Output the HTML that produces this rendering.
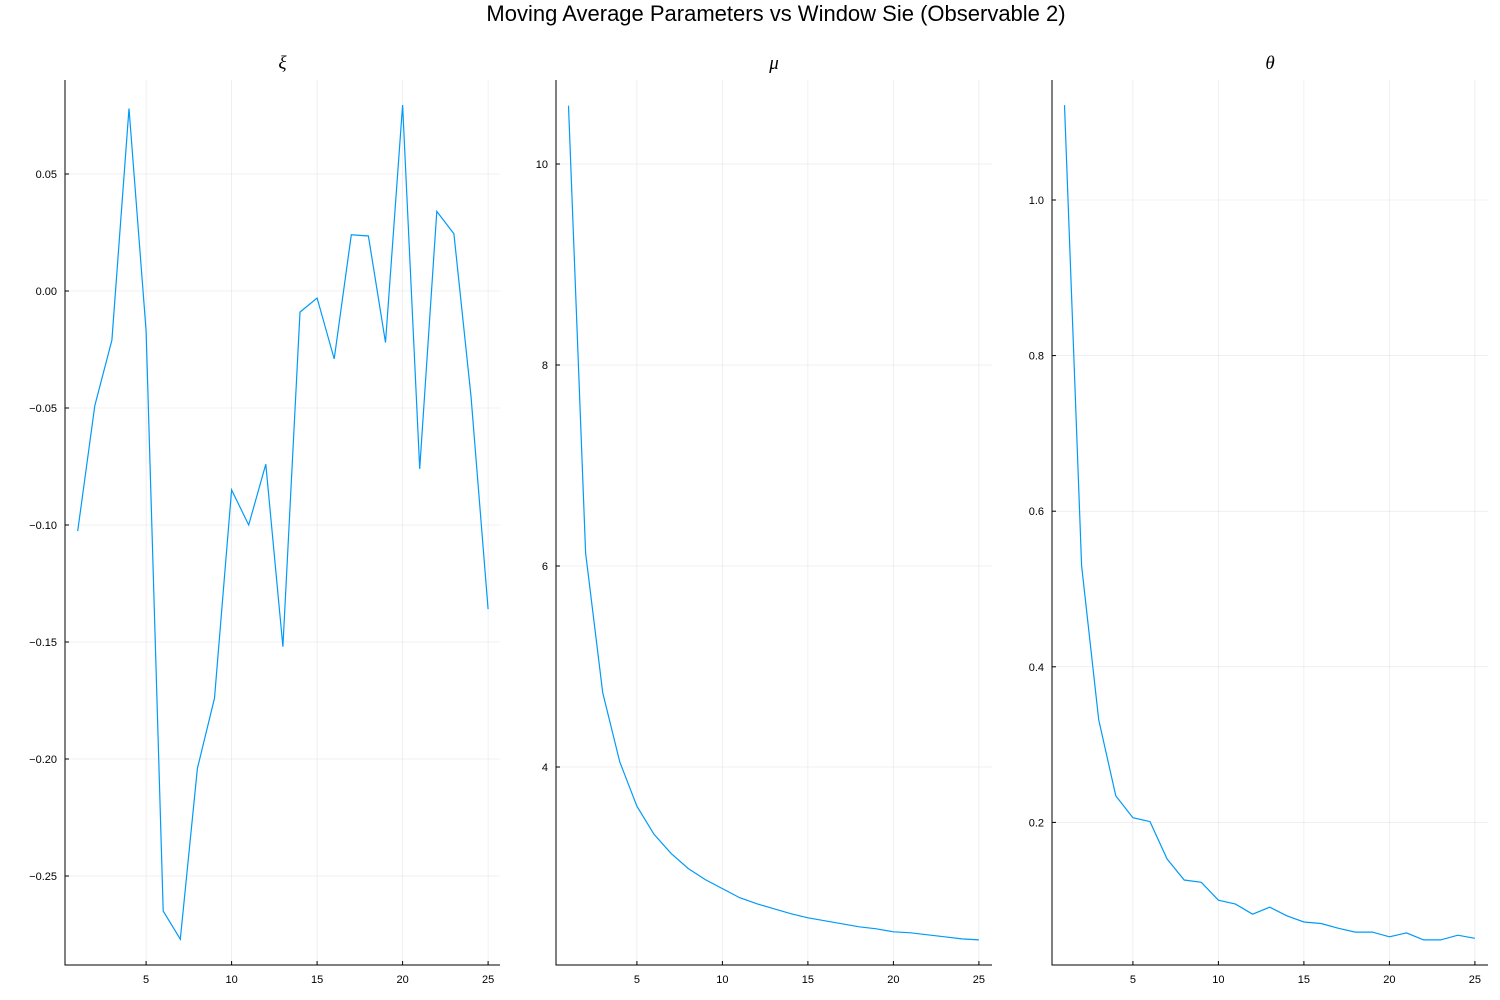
<!DOCTYPE html>
<html><head><meta charset="utf-8"><style>
body{margin:0;background:#fff;}
svg{display:block;font-family:"Liberation Sans","DejaVu Sans",sans-serif;}
</style></head><body>
<svg id="chart" width="1500" height="1000" viewBox="0 0 1500 1000">
<rect width="1500" height="1000" fill="#fff"/>
<text x="776" y="21" font-size="22" text-anchor="middle" fill="#000">Moving Average Parameters vs Window Sie (Observable 2)</text>
</svg>
<script>
const windowSizes=[1,2,3,4,5,6,7,8,9,10,11,12,13,14,15,16,17,18,19,20,21,22,23,24,25];
const xiValues=[-0.1026,-0.049,-0.021,0.078,-0.017,-0.265,-0.277,-0.204,-0.174,-0.085,-0.100,-0.074,-0.152,-0.009,-0.003,-0.029,0.024,0.0235,-0.022,0.0795,-0.076,0.034,0.0245,-0.045,-0.136];
const muValues=[10.58,6.13,4.74,4.05,3.61,3.33,3.14,2.99,2.88,2.79,2.70,2.64,2.59,2.54,2.50,2.47,2.44,2.41,2.39,2.36,2.35,2.33,2.31,2.29,2.28];
const thetaValues=[1.122,0.530,0.332,0.234,0.206,0.201,0.153,0.126,0.123,0.100,0.095,0.082,0.091,0.080,0.072,0.070,0.064,0.059,0.059,0.053,0.058,0.049,0.049,0.055,0.051];
const xTicks=[5,10,15,20,25];
const xiTicks=[0.05,0.00,-0.05,-0.10,-0.15,-0.20,-0.25];
const xiTickLabels=["0.05","0.00","\u22120.05","\u22120.10","\u22120.15","\u22120.20","\u22120.25"];
const muTicks=[10,8,6,4];
const muTickLabels=["10","8","6","4"];
const thetaTicks=[1.0,0.8,0.6,0.4,0.2];
const thetaTickLabels=["1.0","0.8","0.6","0.4","0.2"];

const NS="http://www.w3.org/2000/svg";
const svg=document.getElementById('chart');
function mk(tag,attrs,parent){const e=document.createElementNS(NS,tag);for(const k in attrs)e.setAttribute(k,attrs[k]);(parent||svg).appendChild(e);return e;}

const panels=[
 {name:'xi',title:'ξ',vals:xiValues,ticks:xiTicks,labels:xiTickLabels,left:65,right:500,
  x0:1,px0:77.7,pxPerX:17.1,y0:0,py0:291,pxPerY:-2340},
 {name:'mu',title:'μ',vals:muValues,ticks:muTicks,labels:muTickLabels,left:556,right:992,
  x0:1,px0:568.5,pxPerX:17.1,y0:10,py0:164,pxPerY:-100.5},
 {name:'theta',title:'θ',vals:thetaValues,ticks:thetaTicks,labels:thetaTickLabels,left:1052,right:1488,
  x0:1,px0:1064.5,pxPerX:17.1,y0:1.0,py0:200,pxPerY:-778}
];
const plotTop=80,plotBottom=965;
panels.forEach(p=>{
 const g=mk('g',{});
 
 
 const xs=v=>p.px0+(v-p.x0)*p.pxPerX;
 const ys=v=>p.py0+(v-p.y0)*p.pxPerY;
 xTicks.forEach(t=>{
  const l=mk('line',{x1:xs(t),x2:xs(t),y1:plotTop,y2:plotBottom,stroke:'#000','stroke-opacity':0.1,'stroke-width':0.6},g);
  
  
  mk('line',{x1:xs(t),x2:xs(t),y1:plotBottom,y2:plotBottom-4,stroke:'#000','stroke-width':1},g);
  const tx=mk('text',{x:xs(t),y:plotBottom+18,'font-size':11,'text-anchor':'middle',fill:'#000'},g);
  tx.textContent=t;
  
  
 });
 p.ticks.forEach((t,i)=>{
  const l=mk('line',{x1:p.left,x2:p.right,y1:ys(t),y2:ys(t),stroke:'#000','stroke-opacity':0.1,'stroke-width':0.6},g);
  
  
  mk('line',{x1:p.left,x2:p.left+4,y1:ys(t),y2:ys(t),stroke:'#000','stroke-width':1},g);
  const tx=mk('text',{x:p.left-8,y:ys(t)+4,'font-size':11,'text-anchor':'end',fill:'#000'},g);
  tx.textContent=p.labels[i];
  
  
 });
 const ax=mk('path',{d:`M${p.left},${plotTop} V${plotBottom} H${p.right}`,fill:'none',stroke:'#000','stroke-width':1},g);
 
 
 const ti=mk('text',{x:(p.left+p.right)/2,y:69,'font-size':19,'text-anchor':'middle','font-style':'italic','font-family':'"Liberation Serif","DejaVu Serif",serif',fill:'#000'},g);
 ti.textContent=p.title;
 
 
 const d=p.vals.map((v,i)=>(i?'L':'M')+xs(windowSizes[i]).toFixed(1)+','+ys(v).toFixed(1)).join(' ');
 const ln=mk('path',{d:d,fill:'none',stroke:'#009af9','stroke-width':1.2},g);
 
 
});
</script>
</body></html>
